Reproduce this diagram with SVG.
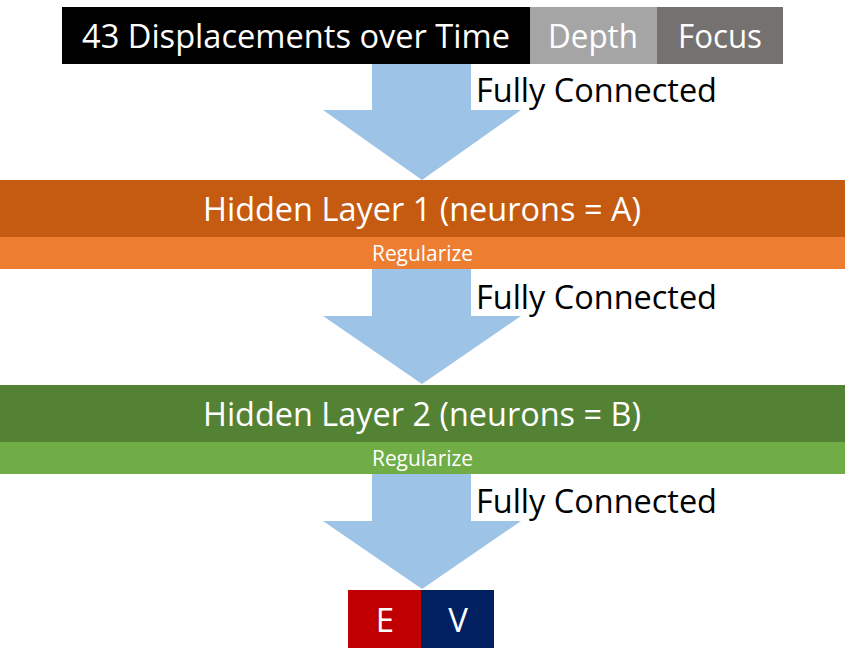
<svg xmlns="http://www.w3.org/2000/svg" width="845" height="665" viewBox="0 0 845 665">
<style>
text{font-family:"Open Sans","Noto Sans","DejaVu Sans",sans-serif;}
.w{fill:#FFFFFF;}
.k{fill:#000000;}
.big{font-size:33px;}
.reg{font-size:21px;}
.arr{fill:#9DC3E6;}
</style>
<rect width="845" height="665" fill="#FFFFFF"/>
<g id="connectors">
<polygon class="arr" points="372,64 471,64 471,110 521,110 422,180 323,110 372,110"/>
<polygon class="arr" points="372,269 471,269 471,316 521,316 422,384 323,316 372,316"/>
<polygon class="arr" points="372,474 471,474 471,521 521,521 422,589 323,521 372,521"/>
<text class="k big" x="476" y="102" textLength="241" lengthAdjust="spacingAndGlyphs">Fully Connected</text>
<text class="k big" x="476" y="309" textLength="241" lengthAdjust="spacingAndGlyphs">Fully Connected</text>
<text class="k big" x="476" y="513" textLength="241" lengthAdjust="spacingAndGlyphs">Fully Connected</text>
</g>
<g id="input">
<rect x="62" y="7" width="468" height="57" fill="#000000"/>
<rect x="530" y="7" width="127" height="57" fill="#A5A5A5"/>
<rect x="657" y="7" width="126" height="57" fill="#767171"/>
<text class="w big" x="82" y="48" textLength="428" lengthAdjust="spacingAndGlyphs">43 Displacements over Time</text>
<text class="w big" x="548" y="48" textLength="90" lengthAdjust="spacingAndGlyphs">Depth</text>
<text class="w big" x="678" y="48" textLength="84" lengthAdjust="spacingAndGlyphs">Focus</text>
</g>
<g id="hidden1">
<rect x="0" y="180" width="845" height="57" fill="#C55A11"/>
<rect x="0" y="237" width="845" height="32" fill="#ED7D31"/>
<text class="w big" x="203" y="221" textLength="438" lengthAdjust="spacingAndGlyphs">Hidden Layer 1 (neurons = A)</text>
<text class="w reg" x="372" y="261" textLength="101" lengthAdjust="spacingAndGlyphs">Regularize</text>
</g>
<g id="hidden2">
<rect x="0" y="385" width="845" height="57" fill="#548235"/>
<rect x="0" y="442" width="845" height="32" fill="#70AD47"/>
<text class="w big" x="203" y="426" textLength="438" lengthAdjust="spacingAndGlyphs">Hidden Layer 2 (neurons = B)</text>
<text class="w reg" x="372" y="466" textLength="101" lengthAdjust="spacingAndGlyphs">Regularize</text>
</g>
<g id="outputE">
<rect x="348" y="590" width="73" height="58" fill="#C00000"/>
<text class="w big" x="385" y="632" text-anchor="middle">E</text>
</g>
<g id="outputV">
<rect x="421" y="590" width="73" height="58" fill="#002060"/>
<text class="w big" x="458" y="632" text-anchor="middle">V</text>
</g>
</svg>
